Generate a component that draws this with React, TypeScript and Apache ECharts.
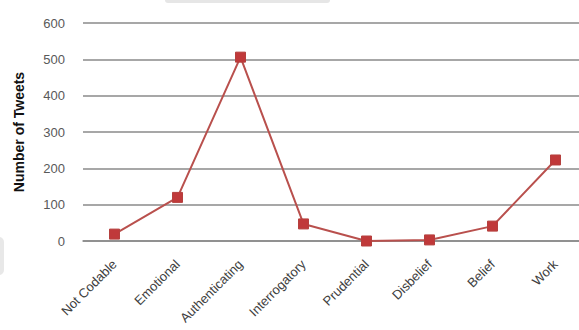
import React, { useEffect, useRef } from "react";
import * as echarts from "echarts";

const categories = ["Not Codable", "Emotional", "Authenticating", "Interrogatory", "Prudential", "Disbelief", "Belief", "Work"];
const tweets = [19, 120, 506, 47, 0, 3, 41, 223];
const yTicks = { min: 0, max: 600, interval: 100 };
const yTitle = "Number of Tweets";

export default function App() {
  const ref = useRef<HTMLDivElement>(null);
  useEffect(() => {
    document.body.style.margin = "0";
    const chart = echarts.init(ref.current!, null, { renderer: "svg" });
    chart.setOption({
      animation: false,
      backgroundColor: "#ffffff",
      textStyle: { fontFamily: "Liberation Sans" },
      grid: { left: 83, right: -8, top: 23, bottom: 89, containLabel: false, outerBoundsMode: "none" },
      xAxis: {
        type: "category",
        data: categories,
        boundaryGap: true,
        axisLine: { show: true, lineStyle: { color: "#8a8a8a", width: 1.5 } },
        axisTick: { show: false },
        axisLabel: { rotate: 45, fontSize: 13, color: "#404040", margin: 21, interval: 0 },
      },
      yAxis: {
        type: "value",
        min: yTicks.min,
        max: yTicks.max,
        interval: yTicks.interval,
        name: yTitle,
        nameLocation: "middle",
        nameRotate: 90,
        nameGap: 57,
        nameTextStyle: { fontWeight: "bold", fontSize: 14, color: "#111" },
        axisLine: { show: false },
        axisTick: { show: false },
        axisLabel: { fontSize: 13, color: "#595959", margin: 18 },
        splitLine: { lineStyle: { color: "#8a8a8a", width: 1.5 } },
      },
      series: [
        {
          type: "line",
          data: tweets,
          symbol: "rect",
          symbolSize: 10,
          lineStyle: { color: "#b9504d", width: 2 },
          itemStyle: { color: "#c0393a", borderColor: "#b5403e", borderWidth: 1 },
        },
      ],
      graphic: [
        { type: "rect", shape: { x: 165, y: -6, width: 165, height: 9, r: 3 }, style: { fill: "#e6e6e6" } },
        { type: "rect", shape: { x: -6, y: 237, width: 10, height: 38, r: 5 }, style: { fill: "#e8e8e8" } },
      ],
    });
    return () => chart.dispose();
  }, []);
  return <div ref={ref} style={{ position: "fixed", left: 0, top: 0, width: 579, height: 330 }} />;
}
